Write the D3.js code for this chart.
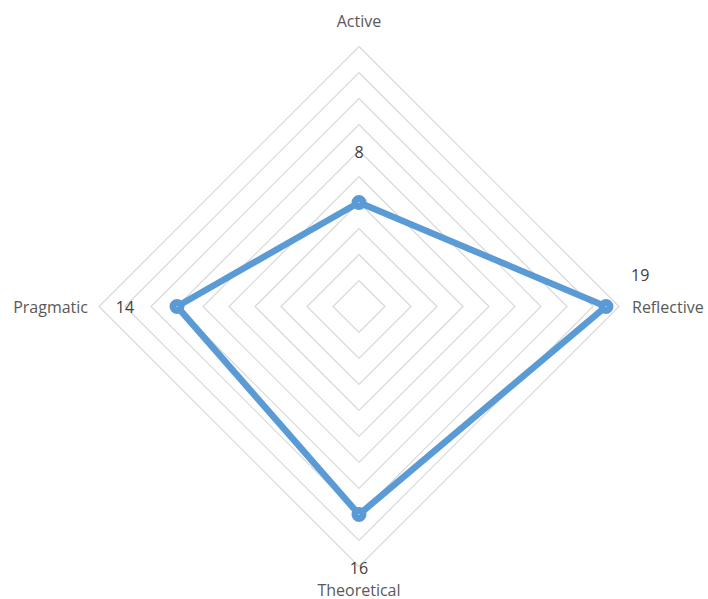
<!DOCTYPE html>
<html>
<head>
<meta charset="utf-8">
<script src="https://cdn.jsdelivr.net/npm/d3@7"></script>
<style>
  body { margin: 0; background: #fff; }
  text { font-family: "Open Sans", sans-serif; fill: #595959; }
</style>
</head>
<body>
<div id="chart"></div>
<script>
const categories = ['Active', 'Reflective', 'Theoretical', 'Pragmatic'];
const values = [8, 19, 16, 14];
const gridTicks = [2, 4, 6, 8, 10, 12, 14, 16, 18, 20];

const width = 708;
const height = 599;
const cx = 359;
const cy = 306.5;
const radius = 260;

const svg = d3.select('#chart')
    .append('svg')
    .attr('width', width)
    .attr('height', height);

const g = svg.append('g').attr('transform', `translate(${cx},${cy})`);

// radial scale
const r = d3.scaleLinear().domain([0, 20]).range([0, radius]);

// angle for each axis, starting at top going clockwise
const angle = (i) => (i / categories.length) * 2 * Math.PI;
const px = (i, v) => Math.sin(angle(i)) * r(v);
const py = (i, v) => -Math.cos(angle(i)) * r(v);

// grid diamonds
const ring = d3.line().curve(d3.curveLinearClosed);
g.selectAll('.grid')
    .data(gridTicks)
    .enter()
    .append('path')
    .attr('class', 'grid')
    .attr('d', (t) => ring(categories.map((c, i) => [px(i, t), py(i, t)])))
    .attr('fill', 'none')
    .attr('stroke', '#d9d9d9')
    .attr('stroke-width', 1.2);

// data polygon
g.append('path')
    .attr('d', ring(values.map((v, i) => [px(i, v), py(i, v)])))
    .attr('fill', 'none')
    .attr('stroke', '#5b9bd5')
    .attr('stroke-width', 6.5)
    .attr('stroke-linejoin', 'round');

// markers
g.selectAll('.marker')
    .data(values)
    .enter()
    .append('circle')
    .attr('cx', (v, i) => px(i, v))
    .attr('cy', (v, i) => py(i, v))
    .attr('r', 4)
    .attr('fill', '#fff')
    .attr('stroke', '#5b9bd5')
    .attr('stroke-width', 7);

// category labels
const catPos = [
    { x: 0, y: -radius - 20, anchor: 'middle' },
    { x: radius + 13, y: 6, anchor: 'start' },
    { x: 0, y: radius + 29, anchor: 'middle' },
    { x: -radius - 11, y: 6, anchor: 'end' },
];
g.selectAll('.cat')
    .data(categories)
    .enter()
    .append('text')
    .attr('class', 'cat')
    .attr('x', (d, i) => catPos[i].x)
    .attr('y', (d, i) => catPos[i].y)
    .attr('text-anchor', (d, i) => catPos[i].anchor)
    .style('font-size', '16px')
    .text((d) => d);

// value labels
const valOff = [
    { dx: 0, dy: -45, anchor: 'middle' },
    { dx: 25, dy: -26, anchor: 'start' },
    { dx: 0, dy: 59, anchor: 'middle' },
    { dx: -52, dy: 6, anchor: 'middle' },
];
g.selectAll('.val')
    .data(values)
    .enter()
    .append('text')
    .attr('class', 'val')
    .attr('x', (v, i) => px(i, v) + valOff[i].dx)
    .attr('y', (v, i) => py(i, v) + valOff[i].dy)
    .attr('text-anchor', (v, i) => valOff[i].anchor)
    .style('font-size', '16px')
    .style('fill', '#404040')
    .text((v) => v);
</script>
</body>
</html>
